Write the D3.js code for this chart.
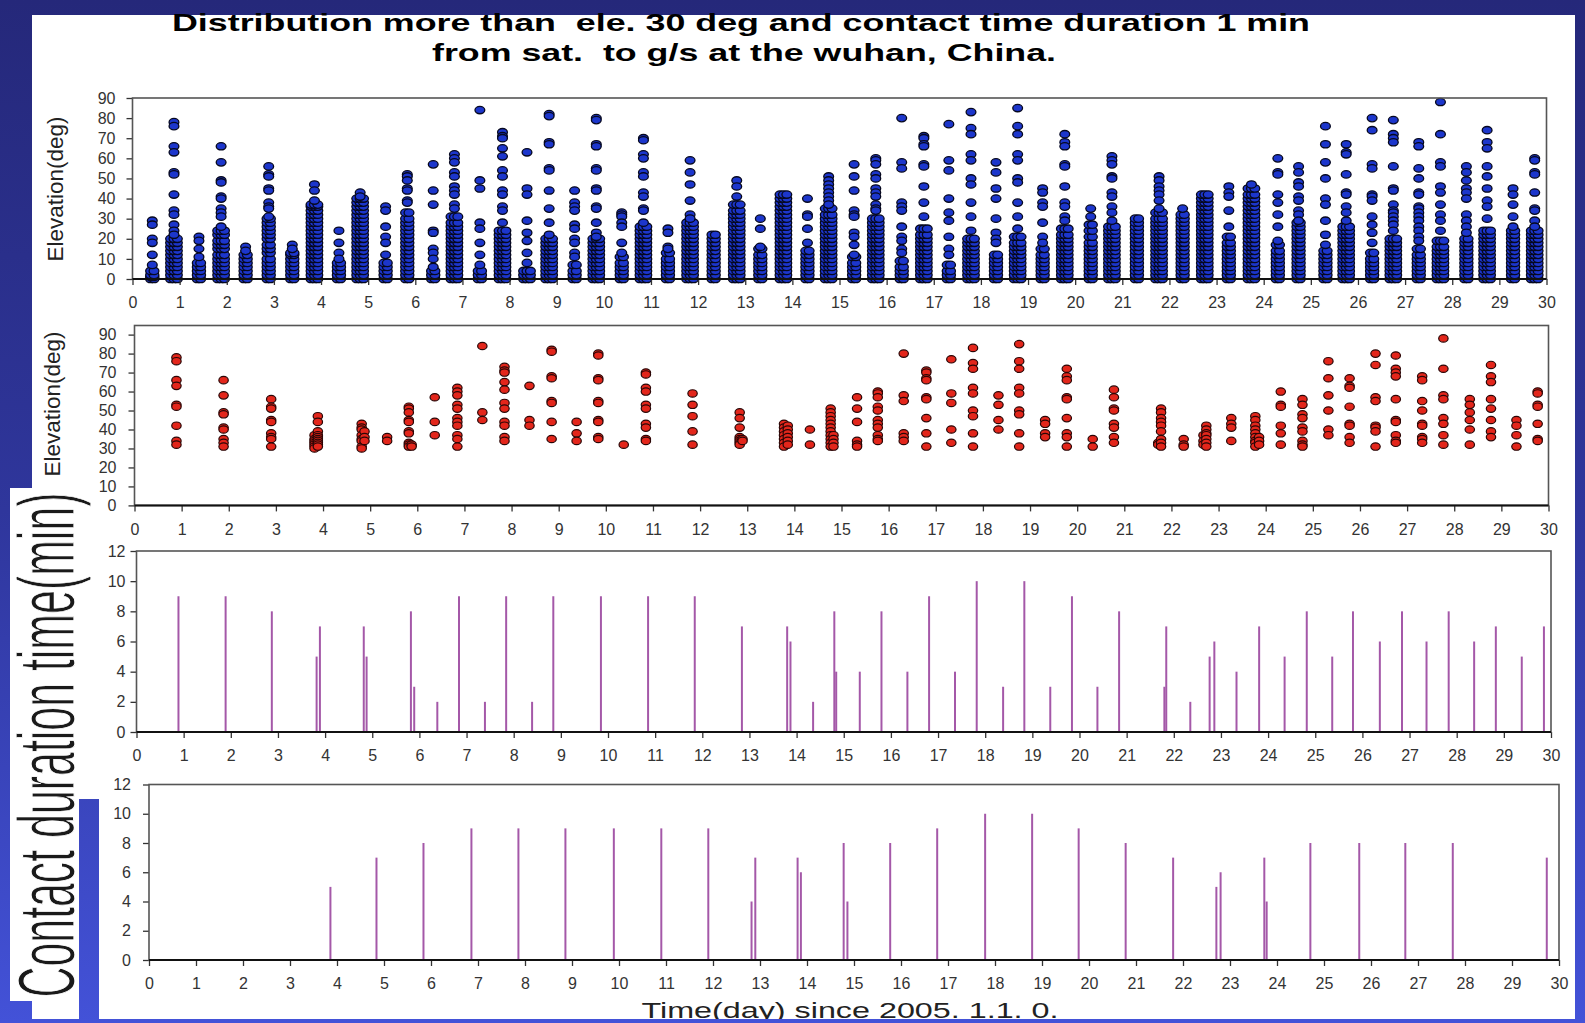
<!DOCTYPE html>
<html>
<head>
<meta charset="utf-8">
<script src="https://cdn.jsdelivr.net/npm/d3@7/dist/d3.min.js"></script>
<style>
body { margin: 0; padding: 0; overflow: hidden; background: #2b2f85; }
svg { display: block; }
</style>
</head>
<body>
<script>
// ---- values ----
const dayTicks = [0,1,2,3,4,5,6,7,8,9,10,11,12,13,14,15,16,17,18,19,20,21,22,23,24,25,26,27,28,29,30];
const elevTicks = [0,10,20,30,40,50,60,70,80,90];
const minTicks = [0,2,4,6,8,10,12];

// all elevations: one group per cluster of passes
const blueX = [0.42,0.88,1.41,1.88,2.40,2.89,3.39,3.86,4.38,4.83,5.37,5.83,6.38,6.83,7.37,7.85,8.37,8.84,9.38,9.84,
  10.38,10.84,11.36,11.83,12.33,12.82,13.32,13.81,14.32,14.77,15.31,15.77,16.32,16.79,17.32,17.79,18.32,18.78,19.31,19.78,
  20.33,20.78,21.31,21.78,22.28,22.75,23.26,23.74,24.30,24.74,25.31,25.75,26.30,26.75,27.29,27.75,28.30,28.74,29.29,29.75];
// single-file points above the dense part
const blueHigh = [
  [29,27,20,18,12,7], [78,76,66,63,53,52,42,34,32,27,24,22], [21,19,15,11], [66,58,49,48,41,40,35,33,31,26], [16,14],
  [56,52,51,45,44,38,36,35,31], [17,15], [47,44,39], [24,18,13,10], [43,41],
  [36,34,26,21,18,12], [52,51,49,45,44,39,38], [57,44,37,24,23,15,13,10,6], [62,60,58,53,51,46,44,42,37,35], [84,49,45,28,25,18,12,7],
  [73,71,70,65,61,54,51,44,42,36,34,28], [63,45,42,29,23,19,13,8], [82,81,68,67,55,54,44,35,28,22], [44,38,36,34,27,25,20,18,13,11], [80,79,67,66,55,54,45,44,36,35,28,23,21],
  [33,32,31,28,26,18,13], [70,69,62,60,53,51,43,41,35,34,28], [25,23,16,15], [59,53,47,39,32,30], [],
  [49,46,41], [30,25,16], [], [40,32,31,25,18], [51,49,47,45,43,41,39,37],
  [57,51,44,34,32,31,23,21,17,12], [60,59,57,52,50,45,43,41,37,35,34], [80,58,55,38,36,34,26,21,19,15,13], [71,70,67,66,57,56,46,38,31], [77,59,54,40,33,29,21,15,12],
  [83,75,72,62,59,50,47,38,31,24], [58,53,45,40,30,23,20,18], [85,76,72,62,59,50,48,38,31,25], [45,43,38,36,28,21,18], [72,68,66,57,56,46,38,36,31,29],
  [35,31], [61,59,57,51,50,43,41,36,33,29], [], [51,49,46,44,42,39,35], [35],
  [], [46,43,41,34,26], [47], [60,53,52,42,38,32,26,19], [56,53,48,46,41,39,34,32,29],
  [76,67,58,50,40,37,29,22,17], [67,63,62,52,43,42,36,33,29], [80,74,57,55,42,41,39,31,27,23,18], [79,72,70,68,56,45,44,37,34,33,31,29,27,24], [68,66,55,50,43,42,36,35,33,31,29,26,24,21,19],
  [88,72,58,56,46,43,37,32,29,24], [56,53,49,45,43,40,32,29,26,23], [74,68,65,56,51,45,39,36,30], [45,42,37,31,26], [60,59,53,52,43,35,34,29,26]
];
// dense part, levels shared by the overlapping passes
const blueLow = [
  [0,1,2,4], [0,2,4,6,8,10,12,14,16,18,20], [0,2,4,6,8], [0,2,4,6,8,10,12,15,17,19,22,24], [0,2,4,6,8,10,12],
  [0,2,4,6,8,10,13,15,17,20,22,24,26,28,30], [0,2,4,6,8,10,12,13], [0,2,4,6,8,10,12,14,16,18,20,22,24,26,28,30,32,34,36,37], [0,2,4,6,8], [0,2,4,6,8,10,12,14,16,18,20,22,24,26,28,30,32,34,36,38,40],
  [0,2,4,6,8], [0,2,4,6,8,10,12,14,16,18,20,22,24,26,28,30,33], [0,2,4], [0,2,4,6,8,10,12,14,16,18,20,22,24,26,28,31], [0,2,4],
  [0,2,4,6,8,10,12,14,16,18,20,22,24], [0,2,4], [0,2,4,6,8,10,12,14,16,18,20], [0,2,4,7], [0,2,4,6,8,10,12,14,16,18,20],
  [0,2,4,6,8,11], [0,2,4,6,8,10,12,14,16,18,20,22,24,26], [0,2,4,6,8,10,13], [0,2,4,6,8,10,12,14,16,18,20,22,24,26,28], [0,2,4,6,8,10,12,14,16,18,20,22],
  [0,2,4,6,8,10,12,14,16,18,20,22,24,26,28,30,32,34,37], [0,2,4,6,8,10,12,15], [0,2,4,6,8,10,12,14,16,18,20,22,24,26,28,30,32,34,36,38,40,42], [0,2,4,6,8,10,12,14], [0,2,4,6,8,10,12,14,16,18,20,22,24,26,28,30,32,35],
  [0,2,4,6,8,11], [0,2,4,6,8,10,12,14,16,18,20,22,24,26,28,30], [0,2,4,6,9], [0,2,4,6,8,10,12,14,16,18,20,22,25], [0,2,4,7],
  [0,2,4,6,8,10,12,14,16,18,20], [0,2,4,6,8,10,12], [0,2,4,6,8,10,12,14,16,18,21], [0,2,4,6,8,10,12,15], [0,2,4,6,8,10,12,14,16,18,20,22,25],
  [0,2,4,6,8,10,12,14,16,18,21,24,27], [0,2,4,6,8,10,12,14,16,18,20,22,24,26], [0,2,4,6,8,10,12,14,16,18,20,22,24,26,28,30], [0,2,4,6,8,10,12,14,16,18,20,22,24,26,28,30,33], [0,2,4,6,8,10,12,14,16,18,20,22,24,26,28,30,32],
  [0,2,4,6,8,10,12,14,16,18,20,22,24,26,28,30,32,34,36,38,40,42], [0,2,4,6,8,10,12,14,16,18,21], [0,2,4,6,8,10,12,14,16,18,20,22,24,26,28,30,32,34,36,38,40,42,45], [0,2,4,6,8,10,12,14,17], [0,2,4,6,8,10,12,14,16,18,20,22,24,26,28],
  [0,2,4,6,8,10,12,14], [0,2,4,6,8,10,12,14,16,18,20,22,24,26], [0,2,4,6,8,10,13], [0,2,4,6,8,10,12,14,16,18,20], [0,2,4,6,8,10,12,15],
  [0,2,4,6,8,10,12,14,16,19], [0,2,4,6,8,10,12,14,16,18,20], [0,2,4,6,8,10,12,14,16,18,20,22,24], [0,2,4,6,8,10,12,14,16,18,20,22,24], [0,2,4,6,8,10,12,14,16,18,20,22,24]
];
// how many passes overlap in the dense part
const bluePasses = [2,3,2,3,2,2,2,3,2,3, 2,2,2,3,2,3,3,3,2,3, 2,3,2,3,2,3,2,3,2,3,
  2,3,2,3,2,3,2,3,2,3, 2,3,2,3,2,3,2,3,2,2, 2,3,2,3,2,3,2,3,2,3];

// elevations above 30 deg
const redX = [0.89,1.89,2.90,3.82,3.89,4.82,4.88,5.36,5.82,5.88,6.37,6.85,7.38,7.85,8.38,8.85,9.38,9.84,10.38,10.85,
  11.84,12.84,12.90,13.78,13.86,14.33,14.77,14.83,15.33,15.77,16.32,16.80,17.33,17.79,18.33,18.77,19.32,19.78,20.33,20.78,
  21.72,21.78,22.26,22.68,22.74,23.27,23.78,23.86,24.32,24.78,25.33,25.78,26.33,26.76,27.32,27.77,28.33,28.78,29.32,29.77];
const redEl = [
  [78,76,66,63,53,52,42,34,32], [66,58,49,48,41,40,35,33,31], [56,52,51,45,44,38,36,35,31], [37,35,34,33,32,31,30], [47,44,39,37,36,35,34,33,32,31],
  [43,41,40,37,35,34,31,30], [39,36,34], [36,34], [52,51,49,45,44,39,38,33,32,31], [32,31],
  [57,44,37], [62,60,58,53,51,46,44,42,37,35,31], [84,49,45], [73,71,70,65,61,54,51,44,42,36,34], [63,45,42],
  [82,81,68,67,55,54,44,35], [44,38,34], [80,79,67,66,55,54,45,44,36,35], [32], [70,69,62,60,53,51,43,41,35,34],
  [59,53,47,39,32], [49,46,41,36,35,34,33,32], [35,34], [43,41,39,37,35,33,31], [42,40,38,36,34,32],
  [40,32], [51,49,47,45,43,41,39,37,35,33,31], [37,35,33,31], [57,51,44,34,32,31], [60,59,57,52,50,45,43,41,37,35,34],
  [80,58,55,38,36,34], [71,70,67,66,57,56,46,38,31], [77,59,54,40,33], [83,75,72,62,59,50,47,38,31], [58,53,45,40],
  [85,76,72,62,59,50,48,38,31], [45,43,38,36], [72,68,66,57,56,46,38,36,31], [35,31], [61,57,51,50,43,41,36,33],
  [33,32], [51,49,46,44,42,39,35,33,31], [35,32,31], [37,34,32], [42,40,38,37,35,33,31],
  [46,43,41,34], [47,45,42,40,38,36,34,33,31], [36,34,32], [60,53,52,42,38,32], [56,53,48,46,41,39,34,32,31],
  [76,67,58,50,40,37], [67,63,62,52,43,42,36,33], [80,74,57,55,42,41,39,31], [79,72,70,68,56,45,44,37,34,33], [68,66,55,50,43,42,36,35,33],
  [88,72,58,56,46,43,37,32], [56,53,49,45,40,32], [74,68,65,56,51,45,39,36], [45,42,37,31], [60,59,53,52,43,35,34]
];

// contact duration (min), third panel
const contactDay1 = [0.89,1.89,2.87,3.82,3.89,4.82,4.88,5.82,5.89,6.38,6.84,7.39,7.84,8.39,8.84,9.85,10.85,11.84,12.84,13.80,
  13.87,14.35,14.80,14.84,15.34,15.80,16.35,16.81,17.36,17.82,18.38,18.83,19.38,19.84,20.38,20.84,21.80,21.84,22.35,22.76,
  22.86,23.33,23.81,24.35,24.82,25.36,25.80,26.37,26.84,27.36,27.83,28.37,28.83,29.38,29.85];
const contactMin1 = [9,9,8,5,7,7,5,8,3,2, 9,2,9,2,9,9,9,9,7,7, 6,2,8,4,4,8,4,9,4,10, 3,10,3,9,3,8,3,7,2,5,
  6,4,7,5,8,5,8,6,8,6, 8,6,7,5,7];
// contact duration (min), fourth panel
const contactDay2 = [3.86,4.84,5.84,6.86,7.86,8.86,9.89,10.90,11.90,12.82,12.90,13.80,13.87,14.78,14.86,15.77,16.77,17.79,
  18.79,19.78,20.78,21.79,22.71,22.80,23.73,23.78,24.71,25.75,26.73,27.74,29.74];
const contactMin2 = [5,7,8,9,9,9,9,9,9,4,7,7,6,8,4,8,9,10,10,9,8,7,5,6,7,4,8,8,8,8,7];

// ---- drawing ----
const width = 1585, height = 1023;
const font = "'Liberation Sans', Arial, sans-serif";

const svg = d3.select("body").append("svg")
  .attr("width", width)
  .attr("height", height);

const grad = svg.append("defs").append("linearGradient")
  .attr("id", "bg")
  .attr("gradientUnits", "userSpaceOnUse")
  .attr("x1", 0).attr("y1", 0).attr("x2", 0).attr("y2", height);
grad.append("stop").attr("offset", 0).attr("stop-color", "#25287a");
grad.append("stop").attr("offset", 0.5).attr("stop-color", "#2f369c");
grad.append("stop").attr("offset", 1).attr("stop-color", "#4352d8");

// slide background and white sheet
svg.append("rect").attr("width", width).attr("height", height).attr("fill", "url(#bg)");
svg.append("rect").attr("x", 32).attr("y", 15).attr("width", 1543).attr("height", 1004).attr("fill", "#fff");
svg.append("rect").attr("x", 79).attr("y", 799).attr("width", 20).attr("height", 224).attr("fill", "url(#bg)");
svg.append("rect").attr("x", 10).attr("y", 488).attr("width", 69).attr("height", 513).attr("fill", "#fff");

// title
svg.append("text")
  .attr("x", 741).attr("y", 31)
  .attr("text-anchor", "middle")
  .attr("font-family", font).attr("font-weight", "bold").attr("font-size", 24)
  .attr("textLength", 1138).attr("lengthAdjust", "spacingAndGlyphs")
  .style("white-space", "pre")
  .text("Distribution more than  ele. 30 deg and contact time duration 1 min");
svg.append("text")
  .attr("x", 744).attr("y", 61)
  .attr("text-anchor", "middle")
  .attr("font-family", font).attr("font-weight", "bold").attr("font-size", 24)
  .attr("textLength", 624).attr("lengthAdjust", "spacingAndGlyphs")
  .style("white-space", "pre")
  .text("from sat.  to g/s at the wuhan, China.");

// box of one panel: scales, ticks, frame
function make_panel(box, ymax, yTicks) {
  const g = svg.append("g");
  const x = d3.scaleLinear().domain([0, 30]).range([box.left, box.right]);
  const y = d3.scaleLinear().domain([0, ymax]).range([box.bottom, box.top]);
  g.append("g").attr("class", "marks");

  const xa = g.append("g")
    .attr("transform", `translate(0, ${box.bottom})`)
    .call(d3.axisBottom(x).tickValues(dayTicks).tickSize(6).tickPadding(12));
  const ya = g.append("g")
    .attr("transform", `translate(${box.left}, 0)`)
    .call(d3.axisLeft(y).tickValues(yTicks).tickSize(6).tickPadding(box.ypad));
  [xa, ya].forEach(a => {
    a.select(".domain").remove();
    a.selectAll("line").attr("stroke", "#333").attr("stroke-width", 1.3);
    a.selectAll("text").attr("font-family", font).attr("font-size", 16).attr("fill", "#333");
  });

  g.append("rect")
    .attr("x", box.left).attr("y", box.top)
    .attr("width", box.right - box.left).attr("height", box.bottom - box.top)
    .attr("fill", "none").attr("stroke", "#555").attr("stroke-width", 1.6);
  g.append("line")
    .attr("x1", box.left).attr("x2", box.right)
    .attr("y1", box.bottom).attr("y2", box.bottom)
    .attr("stroke", "#111").attr("stroke-width", 2);
  return {g: g.select(".marks"), x: x, y: y};
}

// panel 1: all elevations
const p1 = make_panel({left: 132.5, right: 1546.5, top: 98, bottom: 279, ypad: 11}, 90, elevTicks);
const bluePts = [];
blueX.forEach((t, i) => {
  const n = bluePasses[i];
  blueLow[i].forEach(e => {
    for (let k = 0; k < n; k++) bluePts.push({t: t, e: e, k: k - (n - 1) / 2});
  });
  blueHigh[i].forEach(e => bluePts.push({t: t, e: e, k: 0}));
});
p1.g.selectAll("ellipse")
  .data(bluePts)
  .enter()
  .append("ellipse")
  .attr("cx", d => p1.x(d.t) + d.k * 3.4)
  .attr("cy", d => p1.y(d.e))
  .attr("rx", 4.9).attr("ry", 3.7)
  .attr("fill", "#1c36cc")
  .attr("stroke", "#06081f")
  .attr("stroke-width", 1.3);

// panel 2: elevations above 30 deg
const p2 = make_panel({left: 134.5, right: 1548.5, top: 325.5, bottom: 505.4, ypad: 12}, 94.8, elevTicks);
const redPts = [];
redX.forEach((t, i) => redEl[i].forEach(e => redPts.push({t: t, e: e})));
p2.g.selectAll("ellipse")
  .data(redPts)
  .enter()
  .append("ellipse")
  .attr("cx", d => p2.x(d.t))
  .attr("cy", d => p2.y(d.e))
  .attr("rx", 4.7).attr("ry", 3.7)
  .attr("fill", "#e3261b")
  .attr("stroke", "#2a0606")
  .attr("stroke-width", 1.2);

// panels 3 and 4: contact duration bars
function draw_bars(p, days, mins) {
  p.g.selectAll("line")
    .data(d3.zip(days, mins))
    .enter()
    .append("line")
    .attr("x1", d => p.x(d[0])).attr("x2", d => p.x(d[0]))
    .attr("y1", p.y(0)).attr("y2", d => p.y(d[1]))
    .attr("stroke", "#a458a8")
    .attr("stroke-width", 2);
}
const p3 = make_panel({left: 136.5, right: 1551, top: 551, bottom: 732, ypad: 5}, 12, minTicks);
draw_bars(p3, contactDay1, contactMin1);
const p4 = make_panel({left: 149, right: 1559, top: 784.5, bottom: 960, ypad: 12}, 12, minTicks);
draw_bars(p4, contactDay2, contactMin2);

// axis titles
svg.append("text")
  .attr("transform", "translate(63, 189) rotate(-90)")
  .attr("text-anchor", "middle")
  .attr("font-family", font).attr("font-size", 22.5).attr("fill", "#222")
  .text("Elevation(deg)");
svg.append("text")
  .attr("transform", "translate(60, 404) rotate(-90)")
  .attr("text-anchor", "middle")
  .attr("font-family", font).attr("font-size", 22.5).attr("fill", "#222")
  .text("Elevation(deg)");
svg.append("text")
  .attr("transform", "translate(74, 745) rotate(-90)")
  .attr("text-anchor", "middle")
  .attr("font-family", font).attr("font-size", 80).attr("fill", "#1a1a1a")
  .attr("stroke", "#fff").attr("stroke-width", 1.2)
  .attr("textLength", 505).attr("lengthAdjust", "spacingAndGlyphs")
  .text("Contact duration time(min)");
svg.append("text")
  .attr("x", 850).attr("y", 1018)
  .attr("text-anchor", "middle")
  .attr("font-family", font).attr("font-size", 22).attr("fill", "#222")
  .attr("textLength", 417).attr("lengthAdjust", "spacingAndGlyphs")
  .text("Time(day) since 2005. 1.1. 0.");

// blue band at the bottom covers the end of the label
svg.append("rect").attr("x", 0).attr("y", 1019).attr("width", width).attr("height", 4).attr("fill", "url(#bg)");
</script>
</body>
</html>
